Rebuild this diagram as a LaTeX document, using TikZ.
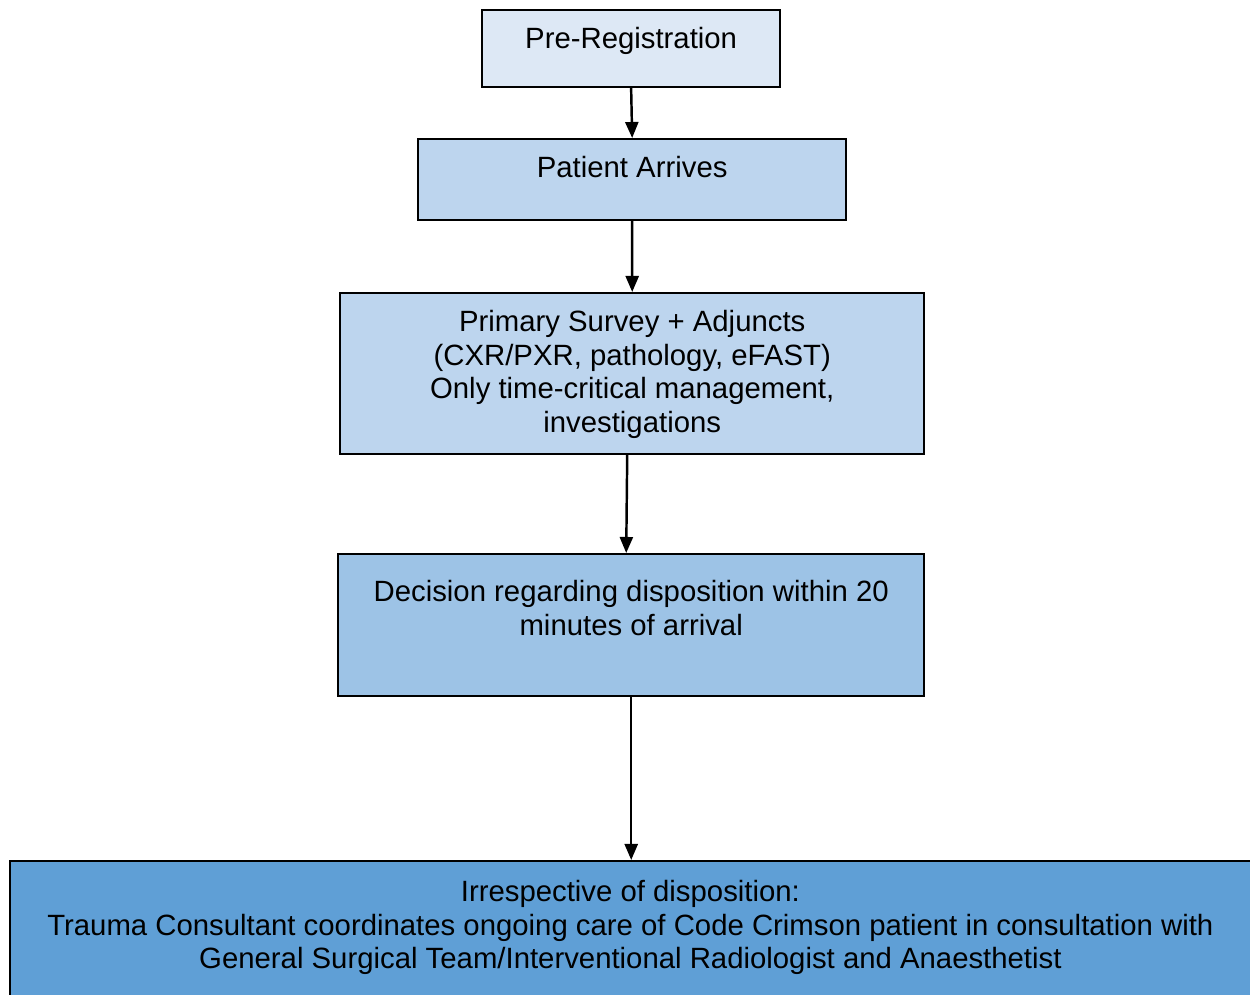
\documentclass[tikz,border=0pt]{standalone}
\usepackage{fontspec}
\setmainfont{Liberation Sans}
\usetikzlibrary{arrows.meta}

\definecolor{paleblue}{HTML}{DDE8F5}
\definecolor{lightblue}{HTML}{BDD5EE}
\definecolor{midblue}{HTML}{9DC3E6}
\definecolor{deepblue}{HTML}{5F9FD6}

\tikzset{
  stage/.style={draw, line width=0.6pt, anchor=north west, inner sep=0pt},
  caption/.style={anchor=north, align=center, inner sep=0pt,
    font=\fontsize{8.34}{9.6}\selectfont}
}

\begin{document}
\begin{tikzpicture}[x=0.01cm, y=-0.01cm, >={Triangle[length=0.16cm,width=0.13cm]}]
\useasboundingbox (0,0) rectangle (1250,995);
\clip (0,0) rectangle (1250,995);

\node[stage, fill=paleblue, minimum width=2.98cm, minimum height=0.77cm,
  label={[caption, yshift=-0.18cm]north:Pre-Registration}] (prereg) at (481,9) {};
\node[stage, fill=lightblue, minimum width=4.28cm, minimum height=0.81cm,
  label={[caption, yshift=-0.18cm]north:Patient Arrives}] (arrive) at (417,138) {};
\node[stage, fill=lightblue, minimum width=5.84cm, minimum height=1.61cm,
  label={[caption, yshift=-0.175cm]north:Primary Survey + Adjuncts\\(CXR/PXR, pathology, eFAST)\\Only time-critical management,\\investigations}] (survey) at (339,292) {};
\node[stage, fill=midblue, minimum width=5.86cm, minimum height=1.42cm,
  label={[caption, yshift=-0.265cm]north:Decision regarding disposition within 20\\minutes of arrival}] (decide) at (337,553) {};
\node[stage, fill=deepblue, minimum width=12.5cm, minimum height=1.45cm,
  label={[caption, yshift=-0.195cm, xshift=-0.05cm]north:Irrespective of disposition:\\Trauma Consultant coordinates ongoing care of Code Crimson patient in consultation with\\General Surgical Team/Interventional Radiologist and Anaesthetist}] (consult) at (9,860) {};

\draw[->, line width=0.7pt] (prereg.south) -- (arrive.north);
\draw[->, line width=0.7pt] (arrive.south) -- (survey.north);
\draw[->, line width=0.7pt] ([xshift=-0.05cm]survey.south) -- ([xshift=-0.05cm]decide.north);
\draw[->, line width=0.7pt] (decide.south) -- (decide.south |- consult.north);
\end{tikzpicture}
\end{document}
